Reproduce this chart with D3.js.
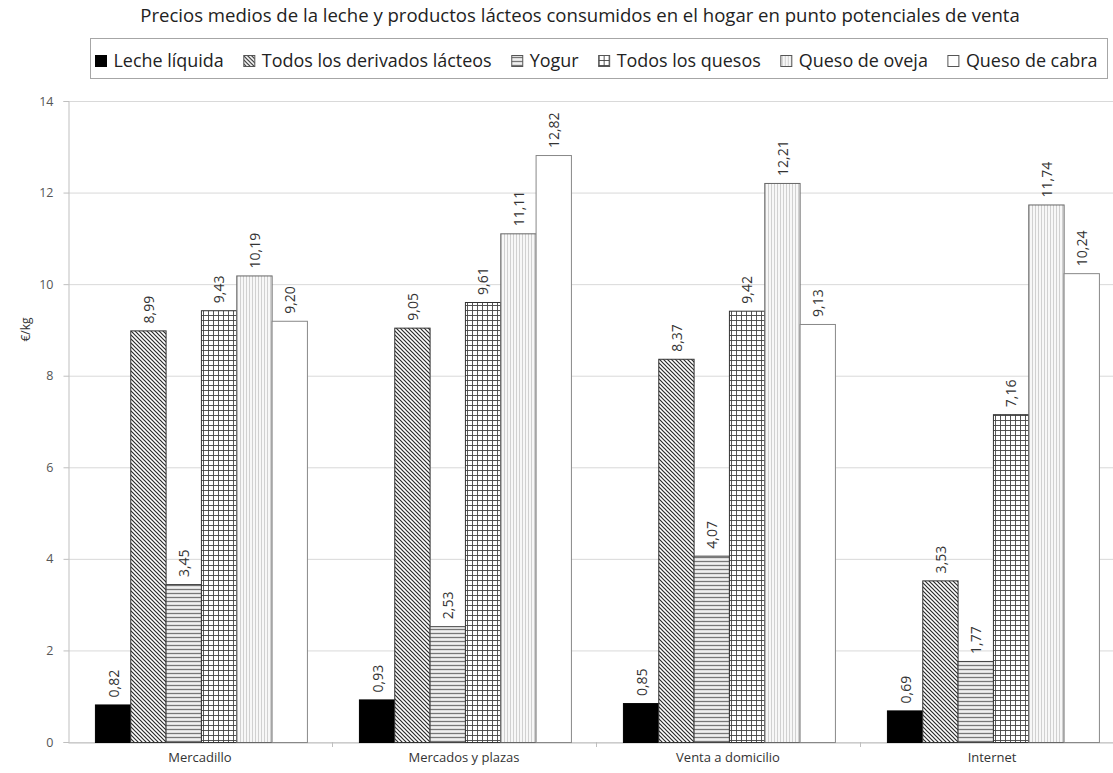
<!DOCTYPE html>
<html>
<head>
<meta charset="utf-8">
<script src="https://cdn.jsdelivr.net/npm/d3@7"></script>
<style>
  html, body { margin: 0; padding: 0; background: #fff; }
  svg { display: block; font-family: "Open Sans", Lato, sans-serif; }
</style>
</head>
<body>
<svg id="chart" width="1113" height="773"></svg>
<script>
// Points of sale (categories)
const categories = ["Mercadillo", "Mercados y plazas", "Venta a domicilio", "Internet"];

// Product series
const seriesNames = ["Leche líquida", "Todos los derivados lácteos", "Yogur",
                     "Todos los quesos", "Queso de oveja", "Queso de cabra"];

// Average price €/kg, one array per series, ordered like categories
const lecheLiquida   = [0.82, 0.93, 0.85, 0.69];
const derivados      = [8.99, 9.05, 8.37, 3.53];
const yogur          = [3.45, 2.53, 4.07, 1.77];
const todosQuesos    = [9.43, 9.61, 9.42, 7.16];
const quesoOveja     = [10.19, 11.11, 12.21, 11.74];
const quesoCabra     = [9.20, 12.82, 9.13, 10.24];
const seriesValues   = [lecheLiquida, derivados, yogur, todosQuesos, quesoOveja, quesoCabra];

// Y axis ticks
const yTicks = [0, 2, 4, 6, 8, 10, 12, 14];

const title = "Precios medios de la leche y productos lácteos consumidos en el hogar en punto potenciales de venta";
const yLabel = "€/kg";

const svg = d3.select("#chart");
const defs = svg.append("defs");

// Scale a text element's font size so that it spans the given width
function fitWidth(sel, width) {
  const fs = +sel.attr("font-size");
  const w = sel.node().getComputedTextLength();
  sel.attr("font-size", fs * width / w);
}

// Fill patterns for each series
function pattern(id, w, h, draw, bg) {
  const p = defs.append("pattern").attr("id", id)
    .attr("patternUnits", "userSpaceOnUse").attr("width", w).attr("height", h);
  p.append("rect").attr("width", w).attr("height", h).attr("fill", bg || "#fff");
  draw(p);
}
pattern("p-diag", 4, 4, p => {
  p.append("path").attr("d", "M-1,-1 L5,5 M-1,3 L1,5 M3,-1 L5,1")
    .attr("stroke", "#2a2a2a").attr("stroke-width", 1.2);
});
pattern("p-horiz", 4, 4, p => {
  p.append("line").attr("x1", 0).attr("x2", 4).attr("y1", 1.5).attr("y2", 1.5)
    .attr("stroke", "#777").attr("stroke-width", 1.3);
}, "#f0f0f0");
pattern("p-grid", 5, 5, p => {
  p.append("path").attr("d", "M0,0.5 H5 M0.5,0 V5")
    .attr("stroke", "#444").attr("stroke-width", 0.9);
});
pattern("p-vert", 3, 3, p => {
  p.append("line").attr("x1", 1.5).attr("x2", 1.5).attr("y1", 0).attr("y2", 3)
    .attr("stroke", "#d0d0d0").attr("stroke-width", 1);
}, "#f7f7f7");

const fills = ["#000", "url(#p-diag)", "url(#p-horiz)", "url(#p-grid)", "url(#p-vert)", "#fff"];
const strokes = ["#000", "#333", "#444", "#333", "#666", "#888"];

// Plot area
const plot = { left: 68, top: 101, bottom: 742, right: 1124 };

const x0 = d3.scaleBand().domain(categories).range([plot.left, plot.right]).padding(0);
const x1 = d3.scaleBand().domain(seriesNames)
  .range([x0.bandwidth() * 0.102, x0.bandwidth() * 0.905]).padding(0);
const y = d3.scaleLinear().domain([0, 14]).range([plot.bottom, plot.top]);

// Gridlines
svg.append("g").selectAll("line").data(yTicks).join("line")
  .attr("x1", plot.left).attr("x2", plot.right)
  .attr("y1", d => y(d) + 0.5).attr("y2", d => y(d) + 0.5)
  .attr("stroke", "#d9d9d9").attr("stroke-width", 1);

// Y axis
const yAxis = svg.append("g").attr("transform", `translate(${plot.left + 0.5},0)`)
  .call(d3.axisLeft(y).tickValues(yTicks).tickSize(5).tickPadding(10).tickFormat(d3.format("d")));
yAxis.select(".domain").attr("stroke", "#bfbfbf");
yAxis.selectAll(".tick line").attr("stroke", "#bfbfbf");
yAxis.selectAll(".tick text").attr("font-size", 12.5).attr("fill", "#555")
  .attr("font-family", "'Open Sans', sans-serif");

svg.append("text")
  .attr("transform", `translate(30,${(plot.top + plot.bottom) / 2 - 92}) rotate(-90)`)
  .attr("text-anchor", "middle").attr("font-size", 12).attr("fill", "#333")
  .text(yLabel);

// X axis
const xAxis = svg.append("g").attr("transform", `translate(0,${plot.bottom + 0.5})`)
  .call(d3.axisBottom(x0).tickSize(0).tickPadding(10));
xAxis.select(".domain").attr("stroke", "#bfbfbf");
xAxis.selectAll(".tick text").attr("font-size", 13).attr("fill", "#333")
  .attr("font-family", "'Open Sans', sans-serif");
// Category separator ticks
svg.append("g").selectAll("line").data(categories.slice(1)).join("line")
  .attr("x1", d => x0(d) + 0.5).attr("x2", d => x0(d) + 0.5)
  .attr("y1", plot.bottom).attr("y2", plot.bottom + 5)
  .attr("stroke", "#bfbfbf");

// Bars
const groups = svg.append("g").selectAll("g").data(categories).join("g")
  .attr("transform", d => `translate(${x0(d)},0)`);

groups.each(function(cat, ci) {
  const g = d3.select(this);
  seriesNames.forEach((s, si) => {
    const v = seriesValues[si][ci];
    g.append("rect")
      .attr("x", x1(s) + 0.5).attr("y", y(v) + 0.5)
      .attr("width", x1.bandwidth()).attr("height", y(0) - y(v))
      .attr("fill", fills[si]).attr("stroke", strokes[si]).attr("stroke-width", 1);
    g.append("text")
      .attr("transform", `translate(${x1(s) + x1.bandwidth() / 2 + 1},${y(v) - 7}) rotate(-90)`)
      .attr("dy", "0.35em").attr("font-size", 14).attr("fill", "#333")
      .text(d3.format(".2f")(v).replace(".", ","));
  });
});

// Title
const titleText = svg.append("text").attr("x", 580).attr("y", 22).attr("text-anchor", "middle")
  .attr("font-size", 16).attr("fill", "#222").text(title);
fitWidth(titleText, 880);

// Legend
const legend = svg.append("g");
legend.append("rect").attr("x", 90.5).attr("y", 38.5).attr("width", 1017).attr("height", 40)
  .attr("fill", "#fff").attr("stroke", "#a6a6a6");
const legendItems = legend.selectAll("g").data(seriesNames).join("g");
legendItems.append("rect").attr("y", 55.5).attr("width", 11).attr("height", 11)
  .attr("fill", (d, i) => fills[i]).attr("stroke", (d, i) => i === 0 ? "#000" : "#555");
legendItems.append("text").attr("x", 18).attr("y", 66.5).attr("font-size", 16)
  .attr("fill", "#222").text(d => d);

// Spread the legend entries across the box width
const swatchGap = 18, itemGap = 20, legendSpan = 1097 - 95;
const widths16 = legendItems.select("text").nodes().map(n => n.getComputedTextLength());
const textTotal = d3.sum(widths16);
const fixed = seriesNames.length * swatchGap + (seriesNames.length - 1) * itemGap;
const scaleK = (legendSpan - fixed) / textTotal;
legendItems.select("text").attr("font-size", 16 * scaleK);
let lx = 95;
legendItems.each(function(d, i) {
  d3.select(this).attr("transform", `translate(${lx + 0.5},0)`);
  lx += swatchGap + widths16[i] * scaleK + itemGap;
});
</script>
</body>
</html>
